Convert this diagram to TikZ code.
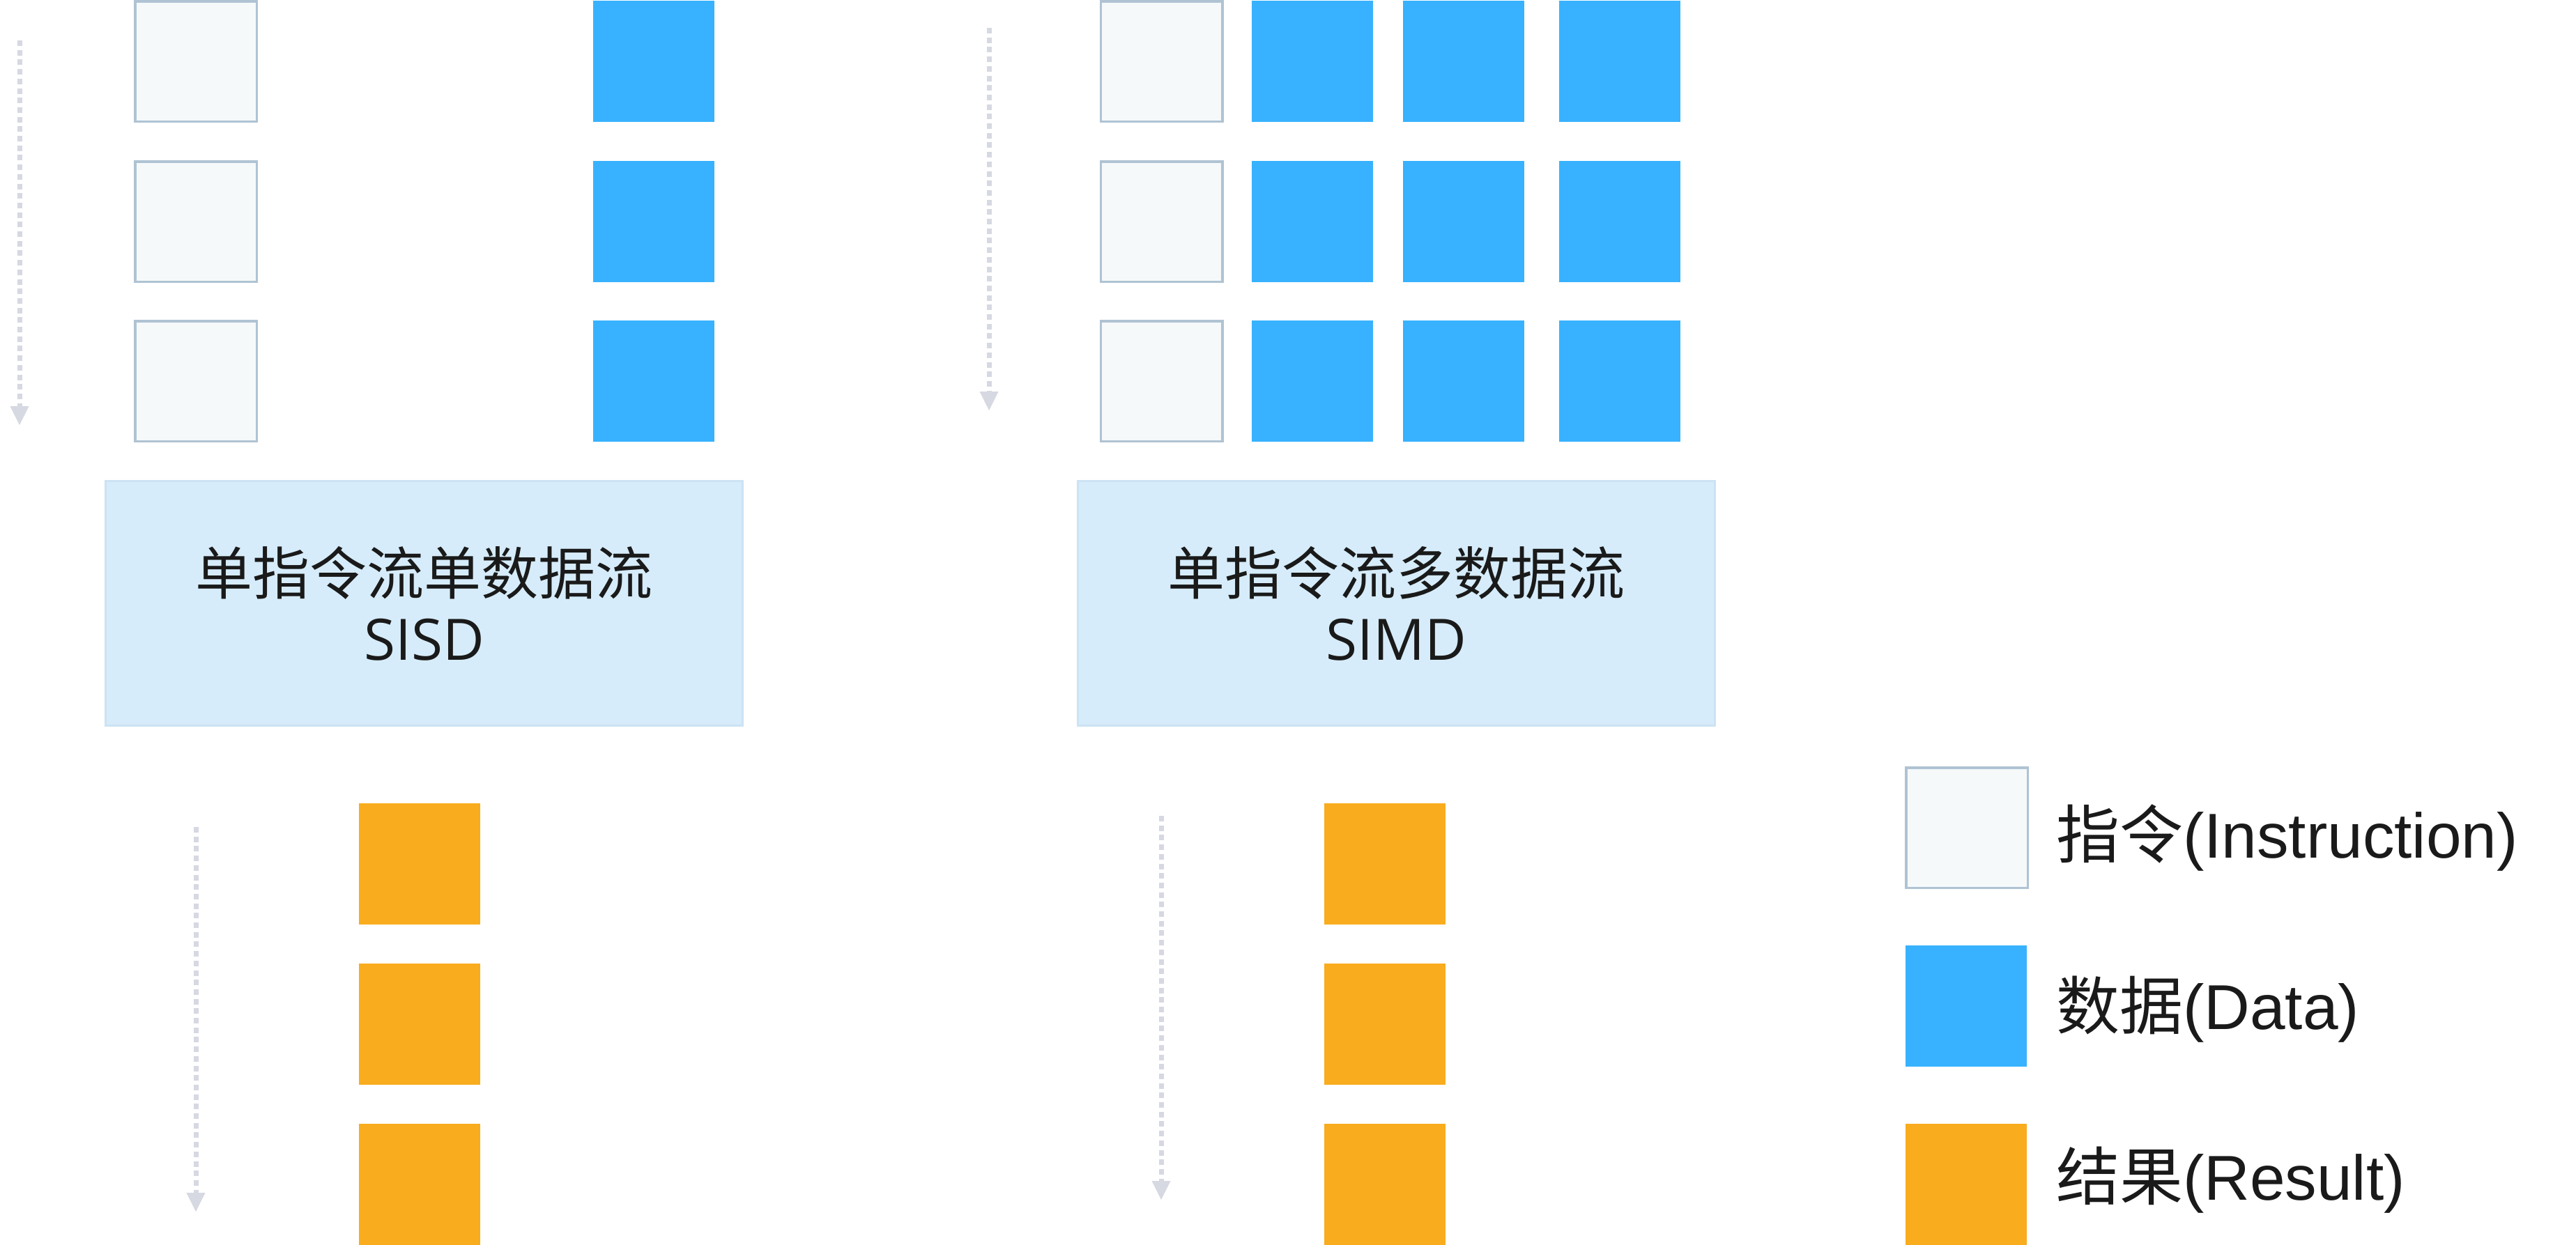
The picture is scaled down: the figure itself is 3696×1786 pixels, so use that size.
\documentclass[tikz,border=0pt]{standalone}
\usepackage{fontspec}
\setmainfont{Liberation Sans}
\newfontfamily\cjk{Noto Sans CJK SC}
\newfontfamily\osans{Open Sans}
\usetikzlibrary{arrows.meta}
\definecolor{instfill}{HTML}{F5F9FA}
\definecolor{instdraw}{HTML}{AFC3D3}
\definecolor{datafill}{HTML}{38B2FF}
\definecolor{resfill}{HTML}{F9AC1E}
\definecolor{mainfill}{HTML}{D6ECFA}
\definecolor{maindraw}{HTML}{CCE3F4}
\definecolor{flowcol}{HTML}{D6D8E2}
\definecolor{txt}{HTML}{1A1A1A}
\begin{document}
\begin{tikzpicture}[x=1pt,y=-1pt,
  cell/.style={minimum width=174pt,minimum height=174pt,inner sep=0pt,outer sep=0pt},
  inst/.style={cell,minimum width=174.5pt,minimum height=172.5pt,fill=instfill,draw=instdraw,line width=3.5pt},
  dat/.style={cell,fill=datafill},
  res/.style={cell,fill=resfill},
  mainbox/.style={fill=mainfill,draw=maindraw,line width=3pt,minimum width=914pt,minimum height=351pt,inner sep=0pt,align=center,text=txt,font=\fontsize{82pt}{98pt}\selectfont},
  flow/.style={draw=flowcol,line width=7pt,dash pattern=on 8pt off 5.7pt,-{Triangle[width=27pt,length=27pt,line width=0pt,fill=flowcol]}},
  legtext/.style={anchor=base west,inner sep=0pt,text=txt,font=\fontsize{91pt}{100pt}\selectfont}]
\useasboundingbox[fill=white] (0,0) rectangle (3696,1786);

% ---- SISD ----
\node[inst] (si1) at (281,88) {};
\node[inst] (si2) at (281,318) {};
\node[inst] (si3) at (281,547) {};
\node[dat] (sd1) at (938,88) {};
\node[dat] (sd2) at (938,318) {};
\node[dat] (sd3) at (938,547) {};
\node[mainbox] (sisd) at (608.5,866) {{\cjk 单指令流单数据流}\\[-4pt]{\osans SISD}};
\node[res] (sr1) at (602,1240) {};
\node[res] (sr2) at (602,1470) {};
\node[res] (sr3) at (602,1700) {};
\coordinate (a1s) at (28,58);
\coordinate (a1e) at (28,610);
\coordinate (a2s) at (281,1187);
\coordinate (a2e) at (281,1739);
\draw[flow] (a1s) -- (a1e);
\draw[flow] (a2s) -- (a2e);

% ---- SIMD ----
\node[inst] (mi1) at (1666.5,88) {};
\node[inst] (mi2) at (1666.5,318) {};
\node[inst] (mi3) at (1666.5,547) {};
\foreach \r/\y in {1/88,2/318,3/547}{
  \node[dat] (ma\r) at (1883,\y) {};
  \node[dat] (mb\r) at (2100,\y) {};
  \node[dat] (mc\r) at (2324,\y) {};
}
\node[mainbox] (simd) at (2003,866) {{\cjk 单指令流多数据流}\\[-4pt]{\osans SIMD}};
\node[res] (mr1) at (1987,1240) {};
\node[res] (mr2) at (1987,1470) {};
\node[res] (mr3) at (1987,1700) {};
\coordinate (a3s) at (1419,40);
\coordinate (a3e) at (1419,589);
\coordinate (a4s) at (1666,1171);
\coordinate (a4e) at (1666,1722);
\draw[flow] (a3s) -- (a3e);
\draw[flow] (a4s) -- (a4e);

% ---- legend ----
\node[inst] (li) at (2822,1188) {};
\node[dat] (ld) at (2821,1444) {};
\node[res] (lr) at (2821,1700) {};
\node[legtext] (lti) at (2950,1231) {{\cjk 指令}(Instruction)};
\node[legtext] (ltd) at (2950,1477) {{\cjk 数据}(Data)};
\node[legtext] (ltr) at (2950,1722) {{\cjk 结果}(Result)};
\end{tikzpicture}
\end{document}
